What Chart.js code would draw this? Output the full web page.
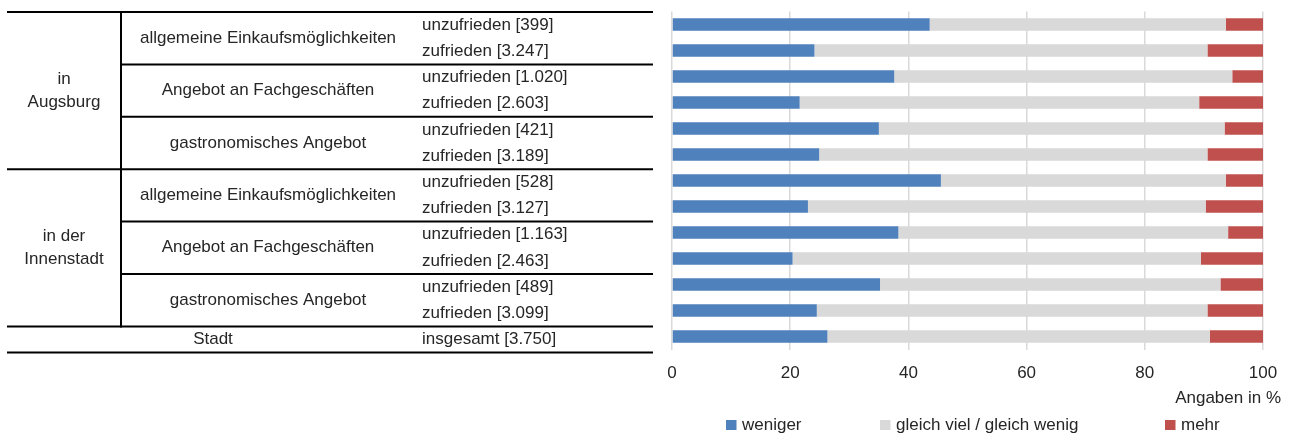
<!DOCTYPE html>
<html>
<head>
<meta charset="utf-8">
<script src="https://cdn.jsdelivr.net/npm/chart.js@4/dist/chart.umd.min.js"></script>
<style>
  html, body { margin: 0; padding: 0; background: #ffffff; }
  #wrap { width: 1293px; height: 434px; position: relative; }
</style>
</head>
<body>
<div id="wrap"><canvas id="c" width="1293" height="434"></canvas></div>
<script>
// ---- data ----
const rowLabels = [
  'unzufrieden [399]', 'zufrieden [3.247]',
  'unzufrieden [1.020]', 'zufrieden [2.603]',
  'unzufrieden [421]', 'zufrieden [3.189]',
  'unzufrieden [528]', 'zufrieden [3.127]',
  'unzufrieden [1.163]', 'zufrieden [2.463]',
  'unzufrieden [489]', 'zufrieden [3.099]',
  'insgesamt [3.750]'
];
const topics = ['allgemeine Einkaufsmöglichkeiten', 'Angebot an Fachgeschäften', 'gastronomisches Angebot'];
const areas = [['in', 'Augsburg'], ['in der', 'Innenstadt']];
const totalLabel = 'Stadt';
const seriesNames = ['weniger', 'gleich viel / gleich wenig', 'mehr'];
const weniger = [43.6, 24.1, 37.6, 21.6, 35.0, 24.9, 45.5, 23.0, 38.3, 20.4, 35.2, 24.5, 26.3];
const gleich  = [50.1, 66.5, 57.2, 67.6, 58.5, 65.7, 48.2, 67.3, 55.8, 69.1, 57.6, 66.1, 64.7];
const mehr    = [6.3, 9.4, 5.2, 10.8, 6.5, 9.4, 6.3, 9.7, 5.9, 10.5, 7.2, 9.4, 9.0];
const xTicks = [0, 20, 40, 60, 80, 100];
const axisTitle = 'Angaben in %';

const colors = ['#4f81bd', '#d9d9d9', '#c0504d'];
const FONT = "'Liberation Sans', Arial, sans-serif";
const TEXT = '#262626';

// table on the left + legend + axis title
const tablePlugin = {
  id: 'tablePlugin',
  afterDraw(chart) {
    const ctx = chart.ctx;
    ctx.save();
    const top = 12, rowH = 26.2, x0 = 7, x1 = 653, xv = 121;
    const col3 = 422, col2c = 268, col1c = 64, stadtC = 213;
    ctx.strokeStyle = '#000';
    ctx.lineWidth = 2;
    const hline = (y, xa, xb) => { ctx.beginPath(); ctx.moveTo(xa, y); ctx.lineTo(xb, y); ctx.stroke(); };
    hline(top, x0, x1);
    for (let i = 1; i <= 6; i++) {
      const y = top + i * 2 * rowH;
      hline(y, (i % 3 === 0) ? x0 : xv, x1);
    }
    hline(top + 13 * rowH, x0, x1);
    ctx.beginPath(); ctx.moveTo(xv, top - 1); ctx.lineTo(xv, top + 12 * rowH + 1); ctx.stroke();

    ctx.fillStyle = TEXT;
    ctx.font = '17px ' + FONT;
    ctx.textBaseline = 'middle';
    ctx.textAlign = 'left';
    rowLabels.forEach((t, i) => ctx.fillText(t, col3, top + rowH * (i + 0.5)));
    ctx.textAlign = 'center';
    for (let g = 0; g < 2; g++) {
      for (let k = 0; k < 3; k++) {
        const idx = g * 3 + k;
        ctx.fillText(topics[k], col2c, top + rowH * (idx * 2 + 1));
      }
      const cy = top + rowH * (g * 6 + 3);
      ctx.fillText(areas[g][0], col1c, cy - 11.5);
      ctx.fillText(areas[g][1], col1c, cy + 11.5);
    }
    ctx.fillText(totalLabel, stadtC, top + rowH * 12.5);

    // axis title
    ctx.textAlign = 'right';
    ctx.fillText(axisTitle, 1281, 398);

    // legend
    const lx = [726, 880, 1165];
    ctx.textAlign = 'left';
    chart.data.datasets.forEach((ds, i) => {
      ctx.fillStyle = ds.backgroundColor;
      ctx.fillRect(lx[i], 420, 10.5, 10);
      ctx.fillStyle = TEXT;
      ctx.fillText(ds.label, lx[i] + 16, 425.5);
    });
    ctx.restore();
  }
};

new Chart(document.getElementById('c'), {
  type: 'bar',
  data: {
    labels: rowLabels,
    datasets: [
      { label: seriesNames[0], data: weniger, backgroundColor: colors[0] },
      { label: seriesNames[1], data: gleich, backgroundColor: colors[1] },
      { label: seriesNames[2], data: mehr, backgroundColor: colors[2] }
    ]
  },
  options: {
    indexAxis: 'y',
    responsive: false,
    animation: false,
    events: [],
    barPercentage: 0.48,
    categoryPercentage: 1.0,
    layout: { padding: { left: 672, right: 30, top: 11.5, bottom: 36 } },
    plugins: { legend: { display: false }, tooltip: { enabled: false } },
    scales: {
      x: {
        stacked: true,
        min: 0, max: 100,
        afterBuildTicks(scale) { scale.ticks = xTicks.map(v => ({ value: v })); },
        ticks: { font: { family: FONT, size: 17 }, color: TEXT, padding: 14, maxRotation: 0 },
        grid: { color: '#d9d9d9', lineWidth: 1.5, drawTicks: false },
        border: { display: false }
      },
      y: {
        stacked: true,
        display: false
      }
    }
  },
  plugins: [tablePlugin]
});
</script>
</body>
</html>
